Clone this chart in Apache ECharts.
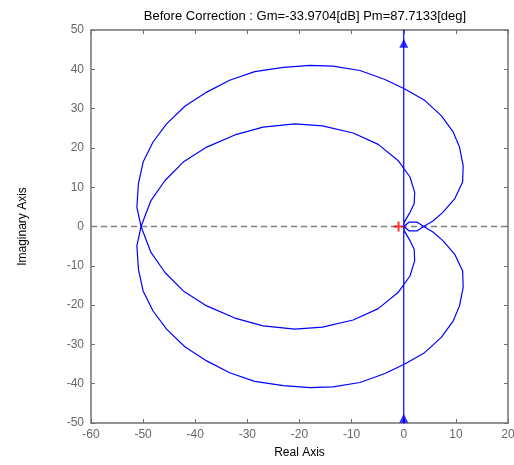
<!DOCTYPE html>
<html>
<head>
<meta charset="utf-8">
<script src="https://cdn.jsdelivr.net/npm/echarts@6/dist/echarts.min.js"></script>
<style>
  html, body { margin: 0; padding: 0; background: #fff; }
  #chart { width: 514px; height: 465px; }
</style>
</head>
<body>
<div id="chart"></div>
<script>
// Nyquist curve (real, imaginary)
const asymptoteLow = [[0, -60], [0, 0]]
const asymptoteHigh = [[0, 0], [0, 60]]

const lensLower = [[0, 0], [1.0, -1.1], [2.6, -1.1], [3.8, 0]]
const lensUpper = [[0, 0], [1.0, 1.1], [2.6, 1.1], [3.8, 0]]

const outerUpper = [
  [3.8, 0], [5.6, 1.4], [7.5, 3.6], [9.8, 7.1], [11.3, 11.3], [11.4, 15.5],
  [10.7, 20.2], [9.5, 24.0], [7.2, 28.2], [4.0, 32.1], [0.2, 35.0], [-3.6, 37.4],
  [-8.4, 39.7], [-13.6, 40.8], [-18.0, 41.0], [-23.1, 40.5], [-28.6, 39.4],
  [-33.4, 37.2], [-37.8, 34.2], [-42.0, 30.6], [-45.5, 26.1], [-48.1, 21.5],
  [-50.0, 16.4], [-50.9, 10.9], [-51.2, 4.9], [-50.4, 0]
]
const outerLower = [
  [3.8, 0], [5.6, -1.4], [7.5, -3.6], [9.8, -7.1], [11.3, -11.3], [11.4, -15.5],
  [10.7, -20.2], [9.5, -24.0], [7.2, -28.2], [4.0, -32.1], [0.2, -35.0], [-3.6, -37.4],
  [-8.4, -39.7], [-13.6, -40.8], [-18.0, -41.0], [-23.1, -40.5], [-28.6, -39.4],
  [-33.4, -37.2], [-37.8, -34.2], [-42.0, -30.6], [-45.5, -26.1], [-48.1, -21.5],
  [-50.0, -16.4], [-50.9, -10.9], [-51.2, -4.9], [-50.4, 0]
]

const innerUpper = [
  [-50.4, 0], [-48.5, 6.6], [-45.8, 11.7], [-42.3, 16.4], [-37.8, 20.2],
  [-32.4, 23.3], [-27.0, 25.3], [-20.9, 26.1], [-15.6, 25.6], [-9.7, 23.8],
  [-4.9, 20.9], [-1.1, 16.8], [1.2, 12.6], [2.1, 8.7], [2.0, 5.8], [1.2, 3.6],
  [0.1, 1.1], [0, 0]
]
const innerLower = [
  [-50.4, 0], [-48.5, -6.6], [-45.8, -11.7], [-42.3, -16.4], [-37.8, -20.2],
  [-32.4, -23.3], [-27.0, -25.3], [-20.9, -26.1], [-15.6, -25.6], [-9.7, -23.8],
  [-4.9, -20.9], [-1.1, -16.8], [1.2, -12.6], [2.1, -8.7], [2.0, -5.8], [1.2, -3.6],
  [0.1, -1.1], [0, 0]
]

const arrowPoints = [[0, 46.6], [0, -48.8]]
const criticalPoint = [[-1, 0]]
const zeroLine = [[-60, 0], [20, 0]]

const titleText = 'Before Correction : Gm=-33.9704[dB] Pm=87.7133[deg]'

const font = "'Liberation Sans', Arial, sans-serif"
const blue = '#0000ff'
const frame = '#707070'

const chart = echarts.init(document.getElementById('chart'))

const axisCommon = {
  type: 'value',
  axisLine: { show: true, onZero: false, lineStyle: { color: frame, width: 1.5 } },
  axisTick: { show: true, inside: true, length: 4, lineStyle: { color: frame } },
  splitLine: { show: false }
}

const option = {
  animation: false,
  backgroundColor: '#fff',
  textStyle: { fontFamily: font },
  title: {
    text: titleText,
    left: 300,
    top: 5,
    textAlign: 'center',
    textStyle: { fontSize: 13, fontWeight: 'normal', color: '#000', fontFamily: font }
  },
  grid: { left: 91, right: 6, top: 30, bottom: 42, outerBoundsMode: 'none', containLabel: false },
  xAxis: [
    {
      ...axisCommon,
      position: 'bottom',
      min: -60, max: 20, interval: 10,
      name: 'Real Axis',
      nameLocation: 'middle',
      nameGap: 24,
      nameTextStyle: { color: '#000', fontSize: 12, fontFamily: font },
      axisLabel: { color: '#666', fontSize: 12, margin: 6, fontFamily: font }
    },
    {
      ...axisCommon,
      position: 'top',
      min: -60, max: 20, interval: 10,
      axisLabel: { show: false }
    }
  ],
  yAxis: [
    {
      ...axisCommon,
      position: 'left',
      min: -50, max: 50, interval: 10,
      name: 'Imaginary Axis',
      nameLocation: 'middle',
      nameRotate: 90,
      nameGap: 62,
      nameTextStyle: { color: '#000', fontSize: 12, fontFamily: font },
      axisLabel: { color: '#666', fontSize: 12, margin: 7, fontFamily: font }
    },
    {
      ...axisCommon,
      position: 'right',
      min: -50, max: 50, interval: 10,
      axisLabel: { show: false }
    }
  ],
  series: [
    {
      type: 'line',
      data: zeroLine,
      symbol: 'none',
      silent: true,
      z: 1,
      lineStyle: { color: '#808080', width: 1.3, type: [6, 4] }
    },
    {
      name: 'positive',
      type: 'line',
      data: [...asymptoteLow, ...lensLower.slice(1), ...outerUpper.slice(1), ...innerLower.slice(1)],
      symbol: 'none',
      z: 3,
      lineStyle: { color: blue, width: 1.2 }
    },
    {
      name: 'negative',
      type: 'line',
      data: [...lensUpper, ...outerLower.slice(1), ...innerUpper.slice(1), ...asymptoteHigh.slice(1)],
      symbol: 'none',
      z: 3,
      lineStyle: { color: blue, width: 1.2 }
    },
    {
      type: 'scatter',
      data: arrowPoints,
      symbol: 'triangle',
      symbolSize: [9, 9],
      z: 4,
      itemStyle: { color: blue }
    },
    {
      type: 'scatter',
      data: criticalPoint,
      symbol: 'path://M4,0H6V4H10V6H6V10H4V6H0V4H4Z',
      symbolSize: 10,
      z: 5,
      itemStyle: { color: '#ff0000' }
    }
  ]
}

chart.setOption(option)
</script>
</body>
</html>
